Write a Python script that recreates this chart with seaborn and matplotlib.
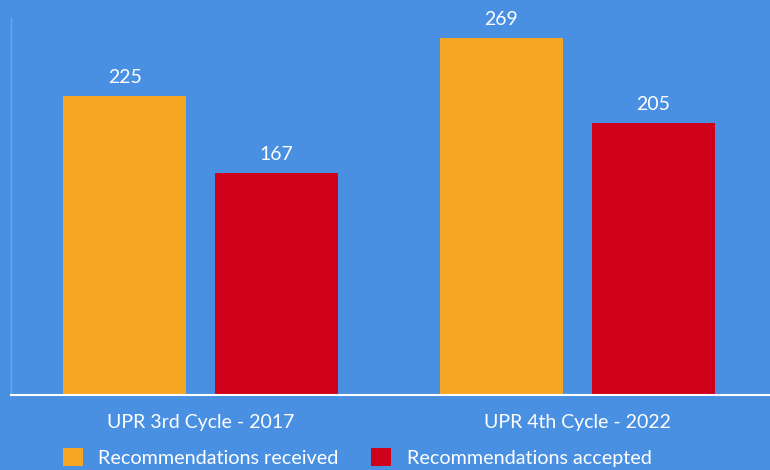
import matplotlib
matplotlib.use("Agg")
import matplotlib.pyplot as plt
import seaborn as sns
import pandas as pd
from matplotlib.patches import Patch

categories = ["UPR 3rd Cycle - 2017", "UPR 4th Cycle - 2022"]
series_names = ["Recommendations received", "Recommendations accepted"]
received = [225, 269]
accepted = [167, 205]

BG = "#4A90E2"
COLORS = ["#F5A623", "#D0021B"]

sns.set_theme(style="white")
plt.rcParams["font.family"] = ["Lato", "DejaVu Sans"]

df = pd.DataFrame({
    "cycle": categories * 2,
    "series": [series_names[0]] * 2 + [series_names[1]] * 2,
    "value": received + accepted,
})

fig = plt.figure(figsize=(7.7, 4.7), dpi=100, facecolor=BG)
ax = fig.add_axes([11 / 770, 75 / 470, 759 / 770, 377 / 470])
ax.set_facecolor(BG)

sns.barplot(data=df, x="cycle", y="value", hue="series", hue_order=series_names,
            palette=COLORS, width=0.806, gap=0.19, saturation=1, ax=ax,
            legend=False, errorbar=None, linewidth=0, edgecolor="none")

ax.set_xlim(-0.503, 1.511)
ax.set_ylim(0, 283.7)

for cont in ax.containers:
    ax.bar_label(cont, padding=7, color="white", fontsize=14)

ax.set_xlabel("")
ax.set_ylabel("")
ax.set_yticks([])
ax.tick_params(axis="x", length=0, pad=14, labelsize=14, labelcolor="white")
for s in ["top", "right"]:
    ax.spines[s].set_visible(False)
ax.spines["left"].set_color((1, 1, 1, 0.18))
ax.spines["left"].set_linewidth(1)
ax.spines["bottom"].set_color("white")
ax.spines["bottom"].set_linewidth(1.5)

handles = [Patch(facecolor=c, edgecolor="none") for c in COLORS]
fig.legend(handles, series_names, loc="lower left",
           bbox_to_anchor=(63 / 770, 3 / 470), ncol=2, frameon=False,
           fontsize=14.2, labelcolor="white", handlelength=1.02, handleheight=1.02,
           handletextpad=0.77, columnspacing=1.65, borderpad=0, borderaxespad=0)

fig.savefig("out.png", dpi=100, facecolor=BG)
